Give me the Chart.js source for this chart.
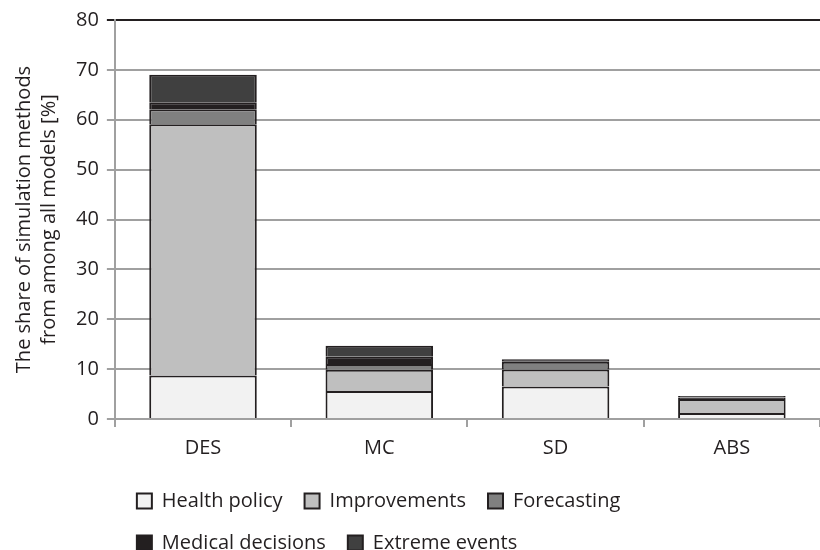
<!DOCTYPE html>
<html>
<head>
<meta charset="utf-8">
<script src="https://cdn.jsdelivr.net/npm/chart.js@4.4.0/dist/chart.umd.min.js"></script>
<style>
  body { margin: 0; background: #fff; }
  #wrap { width: 820px; height: 550px; }
</style>
</head>
<body>
<div id="wrap"><canvas id="myChart"></canvas></div>
<script>
const methods = ['DES', 'MC', 'SD', 'ABS'];
const healthPolicy = [8.7, 5.6, 6.5, 1.2];
const improvements = [50.4, 4.25, 3.4, 2.8];
const forecasting = [3.0, 1.2, 1.6, 0];
const medicalDecisions = [1.4, 1.45, 0.5, 0.3];
const extremeEvents = [5.5, 2.2, 0, 0.3];
const yTicks = [0, 10, 20, 30, 40, 50, 60, 70, 80];

const ink = '#231f20';
const font = "'Open Sans', sans-serif";

function series(label, data, color) {
  return {
    label: label,
    data: data,
    backgroundColor: color,
    borderColor: ink,
    borderWidth: 2,
    borderSkipped: 'start',
    categoryPercentage: 1,
    barPercentage: 0.61
  };
}

const ctx = document.getElementById('myChart').getContext('2d');
new Chart(ctx, {
  type: 'bar',
  data: {
    labels: methods,
    datasets: [
      series('Health policy', healthPolicy, '#f2f2f2'),
      series('Improvements', improvements, '#bfbfbf'),
      series('Forecasting', forecasting, '#808080'),
      series('Medical decisions', medicalDecisions, ink),
      series('Extreme events', extremeEvents, '#404040')
    ]
  },
  options: {
    responsive: true,
    maintainAspectRatio: false,
    animation: false,
    layout: { padding: { top: 0, right: 0, left: 12, bottom: -13 } },
    plugins: {
      tooltip: { enabled: false },
      legend: {
        position: 'bottom',
        align: 'start',
        fullSize: false,
        labels: {
          color: ink,
          font: { family: font, size: 20 },
          boxWidth: 15,
          boxHeight: 15,
          padding: 22,
          useBorderRadius: false
        }
      }
    },
    scales: {
      x: {
        stacked: true,
        grid: {
          display: true,
          drawOnChartArea: false,
          offset: true,
          tickLength: 8,
          color: '#a0a0a0',
          lineWidth: 2
        },
        border: { color: '#a0a0a0', width: 2 },
        ticks: { color: ink, font: { family: font, size: 20 }, padding: 9 }
      },
      y: {
        stacked: true,
        min: 0,
        max: 80,
        afterBuildTicks: axis => { axis.ticks = yTicks.map(v => ({ value: v })); },
        grid: {
          tickLength: 8,
          lineWidth: 2,
          color: c => (c.tick && c.tick.value === 80 ? ink : '#a0a0a0')
        },
        border: { color: '#a0a0a0', width: 2 },
        ticks: { color: ink, font: { family: font, size: 20 }, padding: 8 },
        title: {
          display: true,
          text: ['The share of simulation methods', 'from among all models [%]'],
          color: ink,
          font: { family: font, size: 20, lineHeight: 1.25 },
          padding: { top: 0, bottom: 6 }
        }
      }
    }
  }
});
</script>
</body>
</html>
